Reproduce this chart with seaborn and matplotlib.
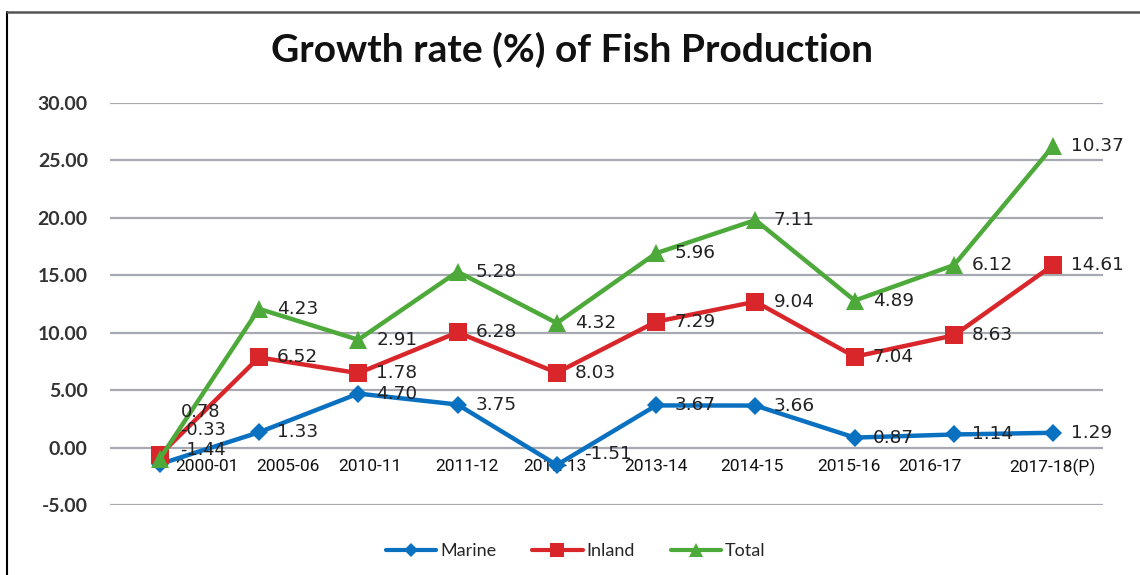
import numpy as np
import pandas as pd
import matplotlib
matplotlib.use("Agg")
import matplotlib.pyplot as plt
import matplotlib.transforms as mtrans
import seaborn as sns
from matplotlib.lines import Line2D

years = ["2000-01", "2005-06", "2010-11", "2011-12", "2012-13", "2013-14",
         "2014-15", "2015-16", "2016-17", "2017-18(P)"]
marine = [-1.44, 1.33, 4.70, 3.75, -1.51, 3.67, 3.66, 0.87, 1.14, 1.29]
inland = [0.78, 6.52, 1.78, 6.28, 8.03, 7.29, 9.04, 7.04, 8.63, 14.61]
total = [-0.33, 4.23, 2.91, 5.28, 4.32, 5.96, 7.11, 4.89, 6.12, 10.37]
yticks = [-5, 0, 5, 10, 15, 20, 25, 30]

sns.set_theme(style="white")
plt.rcParams['font.family'] = ['DejaVu Sans']

# Stacked line chart (values shown are the individual series values)
stack = np.cumsum(np.array([marine, inland, total]), axis=0)
names = ["Marine", "Inland", "Total"]
colors = ["#0A70C0", "#D9262B", "#4DAA3A"]
markers = ["D", "s", "^"]
msizes = [9, 13, 13]
raw = [marine, inland, total]

fig = plt.figure(figsize=(11.4, 5.75), dpi=100)
ax = fig.add_axes([0.0965, 0.1217, 0.8710, 0.6992])

x = np.arange(len(years))
df = pd.DataFrame({"x": np.tile(x, 3), "y": stack.ravel(),
                   "series": np.repeat(names, len(years))})
for i, name in enumerate(names):
    sub = df[df.series == name]
    sns.lineplot(data=sub, x="x", y="y", ax=ax, color=colors[i], lw=3.2,
                 marker=markers[i], markersize=msizes[i], markeredgewidth=0,
                 legend=False, zorder=3 + i)

# data labels
first_dy = {0: 10, 1: 31, 2: 20.5}
for i in range(3):
    for j in range(len(years)):
        dx, dy = 13, 0
        fs = 13.3
        if j == 0:
            dx, dy = 15, first_dy[i]
            fs = 12.8
        if i == 0 and j == 4:
            dx, dy = 20, 8
        ax.annotate(f"{raw[i][j]:.2f}", (x[j], stack[i][j]),
                    xytext=(dx, dy), textcoords="offset points",
                    ha="left", va="center", fontsize=fs, color="#222222",
                    zorder=10)

ax.set_xlim(-0.5, len(years) - 0.5)
ax.set_ylim(-5, 30)
ax.set_yticks(yticks)
ax.set_yticklabels([f"{v:.2f}" for v in yticks], fontsize=14,
                   fontweight="bold", color="#333333", family="Lato")
ax.yaxis.grid(True, color="#A6AAB0", lw=1.6)
ax.set_axisbelow(True)
for s in ["top", "right", "left"]:
    ax.spines[s].set_visible(False)
ax.spines["bottom"].set_position(("data", 0))
ax.spines["bottom"].set_visible(False)
ax.set_xticks(x)
ax.set_xticklabels(years, fontsize=12.5, family="Roboto",
                   color="#111111")
ax.tick_params(axis="x", length=0, pad=8)
ax.tick_params(axis="y", length=0, pad=16)
ax.set_xlabel("")
ax.set_ylabel("")

# the reference's category labels are nudged sideways (pixels)
label_shift_px = [47, 29, 12, 9, -2, 0, -3, -6, -24, -1]
for lab, s in zip(ax.get_xticklabels(), label_shift_px):
    lab.set_transform(lab.get_transform() +
                      mtrans.ScaledTranslation(s / 100, 0,
                                               fig.dpi_scale_trans))

fig.text(0.502, 0.913, "Growth rate (%) of Fish Production", ha="center",
         va="center", fontsize=28, fontweight="bold", family="Lato",
         color="#111111")

handles = [Line2D([0], [0], color=colors[i], lw=3, marker=markers[i],
                  markersize=msizes[i] * 0.75, markeredgewidth=0)
           for i in range(3)]
fig.legend(handles, names, loc="center", bbox_to_anchor=(0.505, 0.042),
           ncol=3, frameon=False, handlelength=2.8, handletextpad=0.2,
           columnspacing=2.0, prop={"family": "Lato", "size": 13})

# figure frame (left and top edges)
fig.add_artist(Line2D([0.0065, 0.0065], [0, 0.979], color="black", lw=1.5,
                      transform=fig.transFigure))
fig.add_artist(Line2D([0.0065, 1], [0.979, 0.979], color="#555555", lw=1.8,
                      transform=fig.transFigure))

fig.savefig("out.png", dpi=100, facecolor="white")
